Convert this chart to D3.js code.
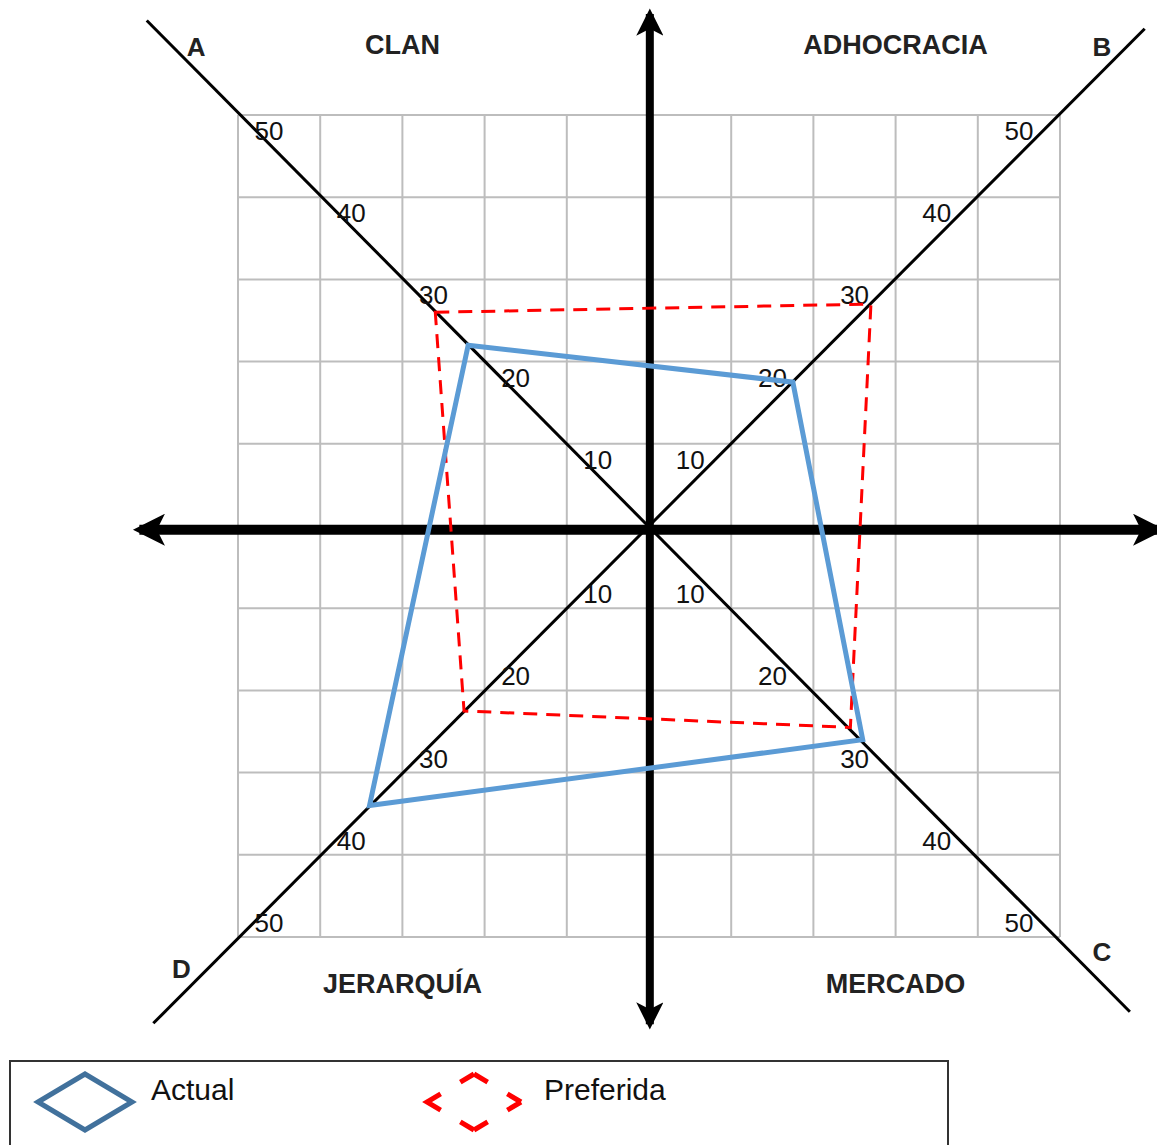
<!DOCTYPE html>
<html><head><meta charset="utf-8">
<script src="https://cdn.jsdelivr.net/npm/d3@7"></script>
<style>body{margin:0;background:#fff}svg{display:block}text{font-family:"Liberation Sans",Arial,sans-serif}</style>
</head><body><div id="chart"></div>
<script>
// ---- data ----
const quadrants = ["A","B","C","D"];
const cultures = ["CLAN","ADHOCRACIA","MERCADO","JERARQUÍA"];
const actual = [22, 17.5, 26, 34];
const preferida = [26, 27, 24.5, 22.5];
const tickValues = [10, 20, 30, 40, 50];
const seriesNames = ["Actual", "Preferida"];

// direction of each quadrant diagonal (A top-left, B top-right, C bottom-right, D bottom-left)
const dirs = [[-1, 1], [1, 1], [1, -1], [-1, -1]];

const W = 1157, H = 1145;
const svg = d3.select("#chart").append("svg").attr("width", W).attr("height", H);
const x = d3.scaleLinear().domain([-50, 50]).range([238, 1060]);
const y = d3.scaleLinear().domain([-50, 50]).range([937, 115]);

const defs = svg.append("defs");
defs.append("marker").attr("id","arrH").attr("viewBox","0 0 10 10").attr("refX",8).attr("refY",5)
  .attr("markerWidth",3.4).attr("markerHeight",3.2).attr("markerUnits","strokeWidth").attr("orient","auto-start-reverse")
  .append("path").attr("d","M0,0 L10,5 L0,10 L2.5,5 Z").attr("fill","#000");
defs.append("marker").attr("id","arrV").attr("viewBox","0 0 10 10").attr("refX",8).attr("refY",5)
  .attr("markerWidth",4).attr("markerHeight",3.4).attr("markerUnits","strokeWidth").attr("orient","auto-start-reverse")
  .append("path").attr("d","M0,0 L10,5 L0,10 L2.5,5 Z").attr("fill","#000");

// grid
const gridVals = d3.range(-50, 51, 10);
const grid = svg.append("g").attr("stroke", "#bdbdbd").attr("stroke-width", 2);
grid.selectAll(".gv").data(gridVals).join("line")
  .attr("x1", d => x(d)).attr("x2", d => x(d)).attr("y1", y(50)).attr("y2", y(-50));
grid.selectAll(".gh").data(gridVals).join("line")
  .attr("y1", d => y(d)).attr("y2", d => y(d)).attr("x1", x(-50)).attr("x2", x(50));

// diagonals
const diagEnds = [[-61.1, 61.5, 58.5, -59.1], [60.3, 60.5, -60.3, -60.5]];
svg.append("g").selectAll("line").data(diagEnds).join("line")
  .attr("x1", d => x(d[0])).attr("y1", d => y(d[1])).attr("x2", d => x(d[2])).attr("y2", d => y(d[3]))
  .attr("stroke", "#000").attr("stroke-width", 3);

// thick axes
svg.append("line").attr("x1", x(-62)).attr("x2", x(62)).attr("y1", y(-0.45)).attr("y2", y(-0.45))
  .attr("stroke","#000").attr("stroke-width",10)
  .attr("marker-start","url(#arrH)").attr("marker-end","url(#arrH)");
svg.append("line").attr("x1", x(0.1)).attr("x2", x(0.1)).attr("y1", y(62.3)).attr("y2", y(-60.6))
  .attr("stroke","#000").attr("stroke-width",8)
  .attr("marker-start","url(#arrV)").attr("marker-end","url(#arrV)");

// tick labels along diagonals
const tl = svg.append("g").attr("font-size", 26).attr("fill", "#111").attr("text-anchor","middle").attr("dominant-baseline","central");
dirs.forEach(dir => {
  tl.selectAll(null).data(tickValues).join("text")
    .attr("x", v => x(dir[0]*v) + (dir[0] < 0 ? 31 : -41))
    .attr("y", v => y(dir[1]*v) + (dir[1] > 0 ? 16 : -14))
    .text(v => v);
});

// series polygons
const pts = vals => vals.map((v, i) => [x(dirs[i][0]*v), y(dirs[i][1]*v)]);
const line = d3.line().curve(d3.curveLinearClosed);
svg.append("path").attr("d", line(pts(preferida))).attr("fill","none")
  .attr("stroke","#ff0000").attr("stroke-width",3).attr("stroke-dasharray","14,9");
svg.append("path").attr("d", line(pts(actual))).attr("fill","none")
  .attr("stroke","#5b9bd5").attr("stroke-width",5).attr("stroke-linejoin","miter");

// culture labels
const cultPos = [[-30, 58.5], [30, 58.5], [30, -55.7], [-30, -55.7]];
svg.append("g").attr("font-size", 27).attr("font-weight","bold").attr("fill","#222")
  .attr("text-anchor","middle").attr("dominant-baseline","central")
  .selectAll("text").data(cultures).join("text")
  .attr("x", (d,i) => x(cultPos[i][0])).attr("y", (d,i) => y(cultPos[i][1])).text(d => d);

// quadrant letters
const letPos = [[-55.1, 58.3], [55.1, 58.3], [55.1, -51.8], [-56.9, -53.9]];
svg.append("g").attr("font-size", 26).attr("font-weight","bold").attr("fill","#222")
  .attr("text-anchor","middle").attr("dominant-baseline","central")
  .selectAll("text").data(quadrants).join("text")
  .attr("x", (d,i) => x(letPos[i][0])).attr("y", (d,i) => y(letPos[i][1])).text(d => d);

// legend
const lg = svg.append("g");
lg.append("rect").attr("x", 10).attr("y", 1061).attr("width", 938).attr("height", 110)
  .attr("fill","none").attr("stroke","#333").attr("stroke-width",2);
const legItems = [
  {name: seriesNames[0], cx: 85, tx: 151, stroke: "#41719c", dash: null, w: 5},
  {name: seriesNames[1], cx: 474, tx: 544, stroke: "#ff0000", dash: "16,23,16,0", w: 5}
];
legItems.forEach(it => {
  const cy = 1102, rx = 47, ry = 28;
  lg.append("path").attr("d", `M${it.cx-rx},${cy} L${it.cx},${cy-ry} L${it.cx+rx},${cy} L${it.cx},${cy+ry} Z`)
    .attr("fill","none").attr("stroke", it.stroke).attr("stroke-width", it.w)
    .attr("stroke-dasharray", it.dash).attr("pathLength", it.dash ? 220 : null);
  lg.append("text").attr("x", it.tx).attr("y", 1100).attr("font-size", 30).attr("fill","#111").text(it.name);
});
</script></body></html>
